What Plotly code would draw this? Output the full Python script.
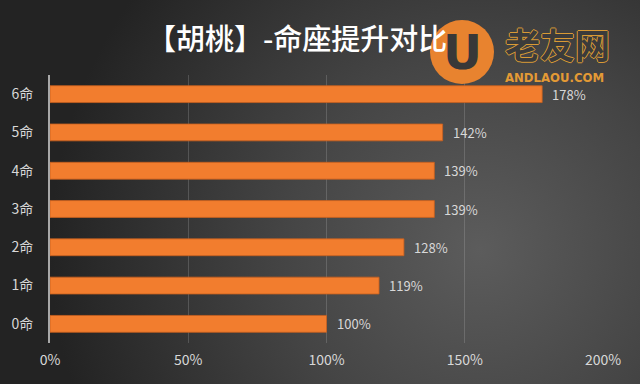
import base64
import plotly.graph_objects as go

categories = ["0命", "1命", "2命", "3命", "4命", "5命", "6命"]
values = [1.00, 1.19, 1.28, 1.39, 1.39, 1.42, 1.78]
value_labels = ["100%", "119%", "128%", "139%", "139%", "142%", "178%"]
x_ticks = [0, 0.5, 1.0, 1.5, 2.0]
x_tick_labels = ["0%", "50%", "100%", "150%", "200%"]
title_text = "【胡桃】-命座提升对比"

W, H = 640, 384
L, R, T, B = 50, 37, 75, 41
PW, PH = W - L - R, H - T - B

def px_to_paper(px, py):
    return (px - L) / PW, 1 + (T - py) / PH

svg = (
    '<svg xmlns="http://www.w3.org/2000/svg" width="640" height="384">'
    '<defs><radialGradient id="g" cx="480" cy="250" r="430" gradientUnits="userSpaceOnUse">'
    '<stop offset="0" stop-color="#5c5c5c"/><stop offset="0.45" stop-color="#454545"/>'
    '<stop offset="1" stop-color="#232323"/></radialGradient></defs>'
    '<rect width="640" height="384" fill="url(#g)"/></svg>'
)
bg_src = "data:image/svg+xml;base64," + base64.b64encode(svg.encode()).decode()

font_family = "Noto Sans CJK SC, Noto Sans, sans-serif"

fig = go.Figure()
fig.add_trace(go.Bar(
    x=values, y=categories, orientation="h",
    marker=dict(color="#F27D2E", line=dict(color="#C85F1E", width=0.8)),
    width=0.44, hoverinfo="skip",
))

annotations = []
for v, c, t in zip(values, categories, value_labels):
    annotations.append(dict(
        x=v, y=c, xref="x", yref="y", text=t, showarrow=False,
        xanchor="left", yanchor="middle", xshift=9, borderpad=0,
        font=dict(size=13, color="#d8d8d8", family=font_family),
    ))

tx, ty = px_to_paper(297, 37)
annotations.append(dict(
    x=tx, y=ty, xref="paper", yref="paper", text=title_text,
    showarrow=False, xanchor="center", yanchor="middle",
    font=dict(size=29, color="#ffffff", family=font_family, weight=500),
))

# watermark
cx, cy = px_to_paper(462, 52)
wx, wy = px_to_paper(557, 43)
ux, uy = px_to_paper(554, 77)
annotations.append(dict(
    x=cx, y=cy, xref="paper", yref="paper", text="<b>U</b>", showarrow=False,
    xanchor="center", yanchor="middle",
    font=dict(size=48, color="#383838", family="DejaVu Sans"),
))
annotations.append(dict(
    x=wx, y=wy, xref="paper", yref="paper", text="<b>老友网</b>", showarrow=False,
    xanchor="center", yanchor="middle", borderpad=0,
    font=dict(size=35, color="#3b3b3b", family=font_family,
              shadow="1px 0 0 #D99A35, -1px 0 0 #D99A35, 0 1px 0 #D99A35, 0 -1px 0 #D99A35"),
))
annotations.append(dict(
    x=ux, y=uy, xref="paper", yref="paper", text="<b>ANDLAOU.COM</b>", showarrow=False,
    xanchor="center", yanchor="middle", borderpad=0,
    font=dict(size=13, color="#E39A35", family="DejaVu Sans Condensed, DejaVu Sans"),
))

shapes = [dict(
    type="circle", xref="paper", yref="paper", xsizemode="pixel", ysizemode="pixel",
    xanchor=cx, yanchor=cy, x0=-32, x1=32, y0=-32, y1=32,
    fillcolor="#E8832F", line=dict(width=0), layer="above",
)]

bx, by = px_to_paper(0, 0)
fig.update_layout(
    width=W, height=H, autosize=False,
    margin=dict(l=L, r=R, t=T, b=B),
    paper_bgcolor="#2e2e2e", plot_bgcolor="rgba(0,0,0,0)",
    showlegend=False,
    images=[dict(source=bg_src, xref="paper", yref="paper", x=bx, y=by,
                 sizex=W / PW, sizey=H / PH, xanchor="left", yanchor="top",
                 sizing="stretch", layer="below")],
    annotations=annotations,
    shapes=shapes,
    xaxis=dict(range=[0, 2], tickvals=x_ticks, ticktext=x_tick_labels,
               showgrid=True, gridcolor="rgba(200,200,200,0.22)", gridwidth=1,
               zeroline=False, showline=False, ticks="",
               tickfont=dict(size=14, color="#d8d8d8", family=font_family),
               ticklabelstandoff=7, fixedrange=True),
    yaxis=dict(categoryorder="array", categoryarray=categories,
               range=[-0.5, 6.5], showgrid=False, zeroline=False,
               showline=True, linecolor="#a8a8a8", linewidth=2, ticks="",
               tickfont=dict(size=14, color="#d8d8d8", family=font_family),
               ticklabelstandoff=12, fixedrange=True),
)

fig.write_html("out.html", config={"displayModeBar": False},
               post_script="document.body.style.margin='0';document.body.style.overflow='hidden';")
